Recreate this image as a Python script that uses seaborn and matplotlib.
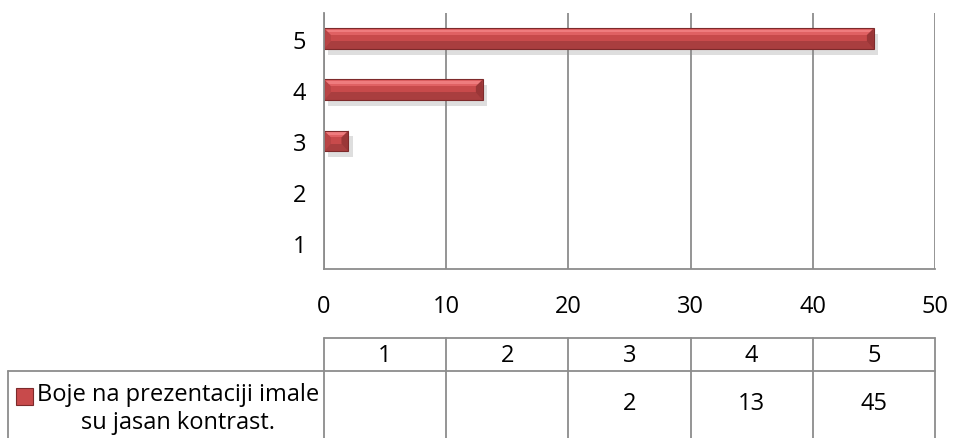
import matplotlib
matplotlib.use("Agg")
import matplotlib.pyplot as plt
import matplotlib.patheffects as pe
from matplotlib.patches import Rectangle, Polygon
import seaborn as sns
import pandas as pd

# data
categories = ["1", "2", "3", "4", "5"]
counts = [0, 0, 2, 13, 45]
series_name = "Boje na prezentaciji imale\nsu jasan kontrast."
x_ticks = [0, 10, 20, 30, 40, 50]

W, H = 954, 439
GRID = "#8c8c8c"
RED = "#c84a4b"
FS = 17

sns.set_style("white")
plt.rcParams['font.family'] = ['Open Sans', 'DejaVu Sans']
plt.rcParams['text.color'] = 'black'

fig = plt.figure(figsize=(W / 100, H / 100), dpi=100)
left, right = 324 / W, 935 / W
bottom, top = 1 - 270 / H, 1 - 14 / H
ax = fig.add_axes([left, bottom, right - left, top - bottom])

df = pd.DataFrame({"cat": categories, "n": counts})
order = categories[::-1]  # 5 on top
sns.barplot(data=df, x="n", y="cat", order=order, orient="h", color=RED,
            width=0.41, saturation=1, edgecolor="none", linewidth=0, ax=ax)

# bevel look + shadow, derived from each bar's geometry
px = 50 / 611  # one pixel in data units along x
for p in list(ax.patches):
    if p.get_width() <= 0:
        continue
    p.set_path_effects([pe.SimplePatchShadow(offset=(3, -4), shadow_rgbFace="#8a8a8a", alpha=0.28),
                        pe.Normal()])
    x0, y0 = p.get_x(), p.get_y()
    w, h = p.get_width(), p.get_height()
    z = p.get_zorder()
    b = min(7 * px, w / 2)
    # y axis inverted: y0 is upper edge
    ax.add_patch(Rectangle((x0, y0), w, h * 0.33, facecolor="#e06163",
                           edgecolor="none", zorder=z + 0.1))
    ax.add_patch(Rectangle((x0, y0 + h * 0.08), w, h * 0.12, facecolor="#ef7c7e",
                           edgecolor="none", zorder=z + 0.2))
    ax.add_patch(Rectangle((x0, y0 + h * 0.62), w, h * 0.38, facecolor="#a93e3f",
                           edgecolor="none", zorder=z + 0.1))
    # end bevels
    ax.add_patch(Polygon([(x0 + w, y0), (x0 + w, y0 + h), (x0 + w - b, y0 + h * 0.62),
                          (x0 + w - b, y0 + h * 0.33)], closed=True,
                         facecolor="#9a3637", edgecolor="none", zorder=z + 0.3))
    ax.add_patch(Polygon([(x0, y0), (x0, y0 + h), (x0 + b, y0 + h * 0.62),
                          (x0 + b, y0 + h * 0.33)], closed=True,
                         facecolor="#b94445", edgecolor="none", zorder=z + 0.3))
    ax.add_patch(Rectangle((x0, y0), w, h, facecolor="none",
                           edgecolor="#7d2a2b", linewidth=0.8, zorder=z + 0.4))

ax.set_xlim(0, 50)
ax.set_xticks(x_ticks)
ax.set_xlabel("")
ax.set_ylabel("")
ax.grid(axis="x", color=GRID, linewidth=1.3)
ax.set_axisbelow(True)
for s in ["top", "right"]:
    ax.spines[s].set_visible(False)
for s in ["left", "bottom"]:
    ax.spines[s].set_color(GRID)
    ax.spines[s].set_linewidth(1.3)
ax.tick_params(axis="both", length=0, labelsize=FS, colors="black")
ax.tick_params(axis="x", pad=18)
ax.tick_params(axis="y", pad=13)

# data table below the chart
tab_top = 339
tax = fig.add_axes([left, 0, right - left, (H - tab_top) / H])
tax.set_xlim(0, 50)
tax.set_ylim(H, tab_top)
tax.axis("off")
row_mid = 372
lbl_left = -(324 - 8) * px

lk = dict(color=GRID, linewidth=1.3, clip_on=False)
tax.plot([0, 50], [tab_top, tab_top], **lk)
tax.plot([lbl_left, 50], [row_mid, row_mid], **lk)
tax.plot([lbl_left, lbl_left], [row_mid, H], **lk)
for xv in x_ticks:
    tax.plot([xv, xv], [tab_top, H], **lk)

for i, (c, n) in enumerate(zip(categories, counts)):
    xc = i * 10 + 5
    tax.text(xc, (tab_top + row_mid) / 2, c, ha="center", va="center", fontsize=FS)
    if n:
        tax.text(xc, 404, str(n), ha="center", va="center", fontsize=FS)

# legend key + series name
key_x = lbl_left + 8 * px
tax.add_patch(Rectangle((key_x, 389), 17 * px, 17, facecolor=RED,
                        edgecolor="#7d2a2b", linewidth=0.8, clip_on=False))
tax.text(lbl_left + 170 * px, 409, series_name, ha="center", va="center",
         fontsize=FS, linespacing=1.2, clip_on=False)

fig.savefig("out.png", dpi=100)
